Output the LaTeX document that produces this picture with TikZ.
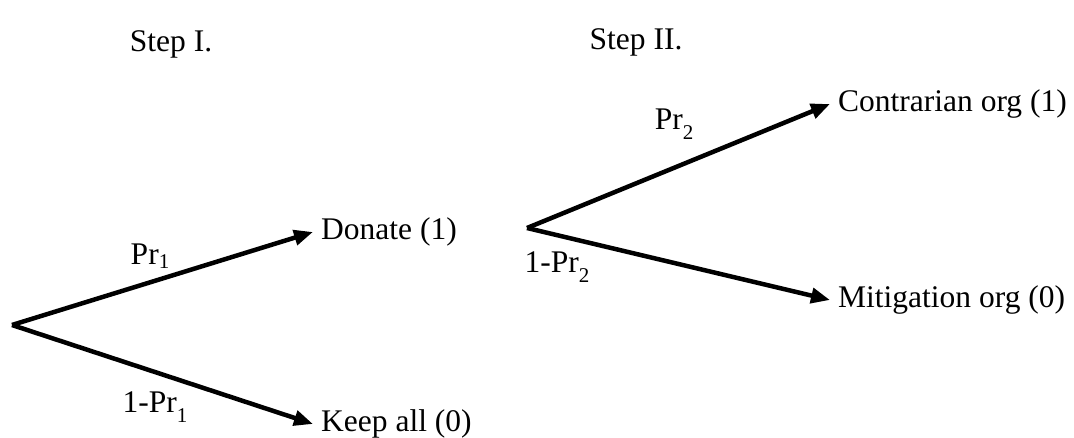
\documentclass[tikz,border=0pt]{standalone}
\usepackage{fontspec}
\setmainfont{Liberation Serif}
\usetikzlibrary{arrows.meta}
\begin{document}
\begin{tikzpicture}[x=1pt,y=-1pt,
  every node/.style={font=\fontsize{31.5}{36}\selectfont, inner sep=0pt},
  branch/.style={line width=4.5pt, -{Triangle[length=19pt,width=15pt]}},
  outcome/.style={anchor=west, inner xsep=8pt},
  sub/.style={},
]
\newcommand{\subdigit}[2]{\raisebox{#1}{\fontsize{21}{22}\selectfont #2}}
\useasboundingbox (0,0) rectangle (1074,438);
% step headings
\node (s1) at (171,44) {Step I.};
\node (s2) at (636,42) {Step II.};
% step I tree
\coordinate (o1) at (12,325);
\node[outcome] (donate) at (313,232) {Donate (1)};
\node[outcome] (keep) at (313,424) {Keep all (0)};
\draw[branch] (o1) -- (donate.west);
\draw[branch] (o1) -- (keep.west);
\node (p1) at (150,256) {Pr\subdigit{-0.12em}{1}};
\node (q1) at (155,407) {1-Pr\subdigit{-0.3em}{1}};
% step II tree
\coordinate (o2) at (527,228);
\node[outcome] (contra) at (830,104) {Contrarian org (1)};
\node[outcome] (mitig) at (830,300) {Mitigation org (0)};
\draw[branch] (o2) -- (contra.west);
\draw[branch] (o2) -- (mitig.west);
\node (p2) at (674,124) {Pr\subdigit{-0.3em}{2}};
\node (q2) at (557,267) {1-Pr\subdigit{-0.3em}{2}};
\end{tikzpicture}
\end{document}
